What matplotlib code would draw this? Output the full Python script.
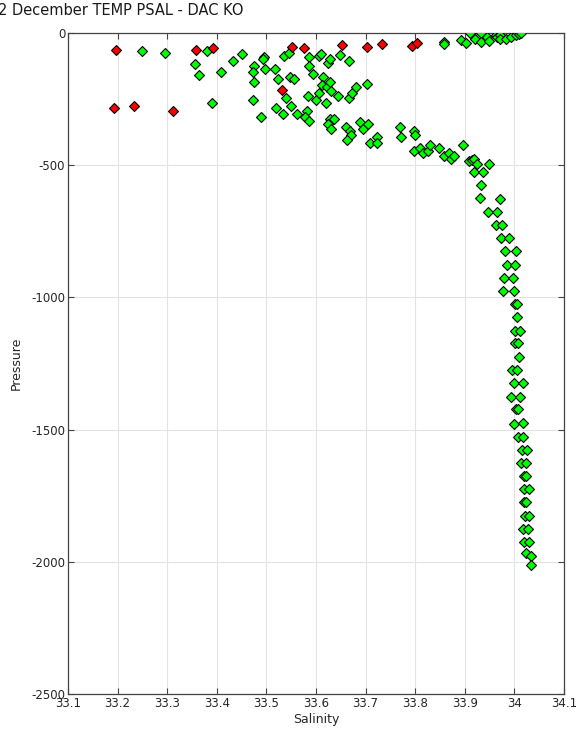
import matplotlib
matplotlib.use("Agg")
import matplotlib.pyplot as plt

# Green (good) points
green_sal = [
    33.249, 33.295, 33.380, 33.357, 33.364, 33.409, 33.391, 33.432, 33.451, 33.474,
    33.472, 33.474, 33.472, 33.489, 33.496, 33.494, 33.497, 33.517, 33.524, 33.535,
    33.545, 33.547, 33.556, 33.539, 33.520, 33.533, 33.549, 33.561, 33.582, 33.578,
    33.586, 33.585, 33.585, 33.594, 33.583, 33.600, 33.607, 33.611, 33.606, 33.614,
    33.613, 33.624, 33.629, 33.623, 33.629, 33.631, 33.621, 33.644, 33.648, 33.666,
    33.666, 33.673, 33.681, 33.703, 33.629, 33.637, 33.624, 33.631, 33.661, 33.669,
    33.671, 33.662, 33.689, 33.695, 33.705, 33.709, 33.722, 33.722, 33.770, 33.771,
    33.798, 33.799, 33.797, 33.810, 33.816, 33.826, 33.829, 33.847, 33.859, 33.869,
    33.872, 33.878, 33.897, 33.909, 33.915, 33.919, 33.924, 33.919, 33.936, 33.949,
    # surface, right
    33.858, 33.858, 33.893, 33.903, 33.910, 33.921, 33.932, 33.933, 33.945, 33.949,
    33.962, 33.964, 33.970, 33.970, 33.983, 33.993, 34.003, 34.010, 34.014,
    # deep
    33.933, 33.930, 33.970, 33.947, 33.965, 33.962, 33.976, 33.972, 33.989, 33.982,
    34.004, 33.985, 34.002, 33.980, 33.997, 33.978, 33.999, 34.002, 34.005, 34.006,
    34.002, 34.011, 34.001, 34.007, 34.010, 33.996, 34.005, 34.000, 34.017, 33.993,
    34.011, 34.003, 34.007, 34.000, 34.017, 34.008, 34.018, 34.016, 34.026, 34.014,
    34.024, 34.020, 34.024, 34.019, 34.030, 34.020, 34.024, 34.022, 34.030, 34.018,
    34.027, 34.020, 34.030, 34.024, 34.033, 34.034,
]
green_pres = [
    -68, -75, -68, -116, -158, -146, -264, -105, -78, -126,
    -148, -185, -253, -317, -90, -99, -137, -136, -175, -88,
    -76, -168, -174, -245, -285, -306, -275, -306, -295, -317,
    -334, -91, -126, -154, -237, -253, -87, -79, -226, -165,
    -197, -115, -99, -203, -186, -218, -264, -237, -84, -107,
    -246, -226, -205, -194, -326, -326, -344, -364, -354, -371,
    -387, -406, -335, -364, -344, -417, -394, -417, -354, -395,
    -371, -386, -445, -434, -455, -446, -425, -434, -465, -454,
    -478, -467, -424, -486, -480, -475, -495, -525, -525, -497,
    -33, -43, -28, -38, -1, -23, -1, -34, -17, -31,
    -9, -16, -9, -23, -21, -14, -9, -4, 0,
    -576, -625, -629, -677, -677, -725, -725, -776, -776, -824,
    -824, -877, -877, -925, -925, -977, -975, -1025, -1025, -1073,
    -1126, -1126, -1174, -1174, -1227, -1275, -1275, -1325, -1325, -1375,
    -1375, -1423, -1423, -1479, -1476, -1527, -1527, -1577, -1577, -1627,
    -1627, -1675, -1675, -1725, -1725, -1775, -1775, -1826, -1826, -1876,
    -1876, -1926, -1926, -1966, -1978, -2012,
]

# Red (flagged) points
red_sal = [33.196, 33.193, 33.233, 33.312, 33.358, 33.393, 33.552, 33.576, 33.531,
           33.653, 33.702, 33.734, 33.794, 33.804]
red_pres = [-64, -285, -275, -295, -64, -57, -53, -57, -216,
            -47, -53, -43, -48, -37]

x_ticks = [33.1, 33.2, 33.3, 33.4, 33.5, 33.6, 33.7, 33.8, 33.9, 34.0, 34.1]
x_ticklabels = ["33.1", "33.2", "33.3", "33.4", "33.5", "33.6", "33.7", "33.8", "33.9", "34", "34.1"]
y_ticks = [-2500, -2000, -1500, -1000, -500, 0]
y_ticklabels = ["-2500", "-2000", "-1500", "-1000", "-500", "0"]

plt.rcParams['font.family'] = ['DejaVu Sans']

fig = plt.figure(figsize=(5.87, 7.30), dpi=100)
ax = fig.add_axes([68/587, 1 - 694/730, (564 - 68)/587, (694 - 33)/730])

ax.plot(green_sal, green_pres, linestyle='none', marker='D', markersize=5.4,
        markerfacecolor='#00ff00', markeredgecolor='black', markeredgewidth=0.8, zorder=3)
ax.plot(red_sal, red_pres, linestyle='none', marker='D', markersize=5.4,
        markerfacecolor='#ff0000', markeredgecolor='black', markeredgewidth=0.8, zorder=4)

ax.set_xlim(33.1, 34.1)
ax.set_ylim(-2500, 0)
ax.set_xticks(x_ticks)
ax.set_xticklabels(x_ticklabels)
ax.set_yticks(y_ticks)
ax.set_yticklabels(y_ticklabels)
ax.grid(True, color='#e3e3e3', linewidth=0.8)
ax.set_axisbelow(True)
ax.tick_params(direction='in', top=True, right=True, length=4, width=0.8,
               color='#444444', labelsize=8.5, labelcolor='#262626', pad=2)
for s in ax.spines.values():
    s.set_color('#444444')
    s.set_linewidth(0.9)

ax.set_xlabel("Salinity", fontsize=9, color='#262626', labelpad=2)
ax.set_ylabel("Pressure", fontsize=9, color='#262626', labelpad=6)

fig.text(-0.003, 1 - 15/730, "2 December TEMP PSAL - DAC KO", fontsize=10.5,
         color='#1a1a1a', ha='left', va='baseline')

fig.savefig("out.png", dpi=100)
